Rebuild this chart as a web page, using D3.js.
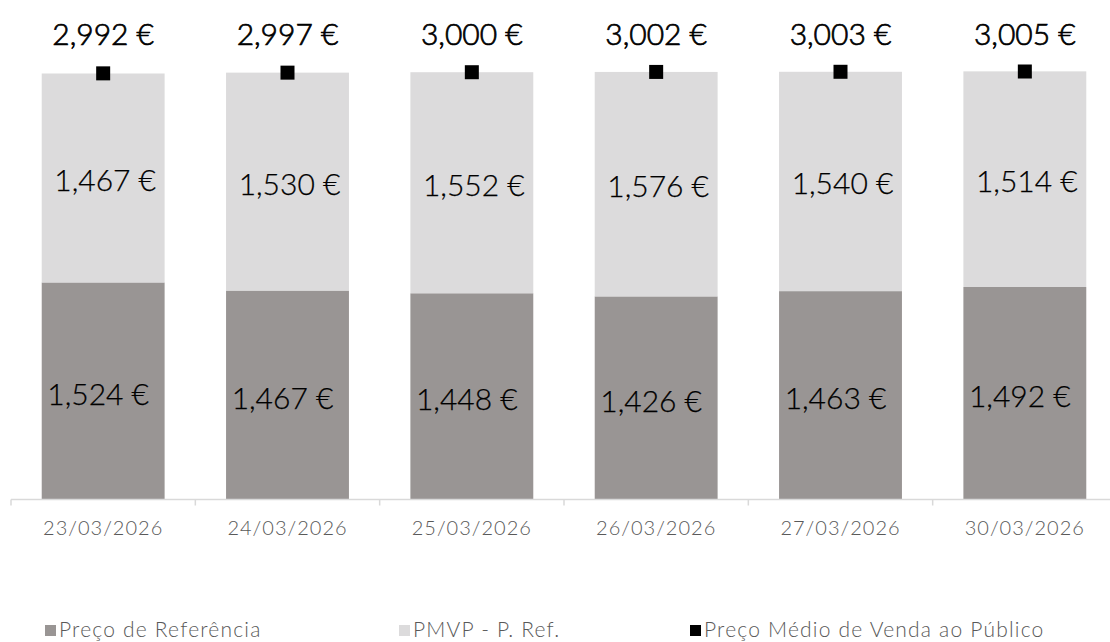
<!DOCTYPE html>
<html>
<head>
<meta charset="utf-8">
<script src="https://cdn.jsdelivr.net/npm/d3@7"></script>
<style>
  body { margin: 0; background: #fff; }
  svg { display: block; font-family: Lato, "Noto Sans", sans-serif; font-weight: 300; }
</style>
</head>
<body>
<div id="chart"></div>
<script>
// data
var dates = ["23/03/2026", "24/03/2026", "25/03/2026", "26/03/2026", "27/03/2026", "30/03/2026"];
var precoRef = [1.524, 1.467, 1.448, 1.426, 1.463, 1.492];
var pmvpDiff = [1.467, 1.530, 1.552, 1.576, 1.540, 1.514];
var pmvp = [2.992, 2.997, 3.000, 3.002, 3.003, 3.005];
var legendNames = ["Preço de Referência", "PMVP - P. Ref.", "Preço Médio de Venda ao Público"];

var width = 1110, height = 642;
var darkGrey = "#999594", lightGrey = "#dcdbdc";

var pt = d3.formatLocale({decimal: ",", thousands: ".", grouping: [3], currency: ["", " €"]});
var fmt = function (v) { return pt.format(".3f")(v) + " €"; };

var svg = d3.select("#chart").append("svg")
    .attr("width", width)
    .attr("height", height);

var x = d3.scaleBand()
    .domain(dates)
    .range([11, 1117])
    .paddingInner(1 / 3)
    .paddingOuter(1 / 6);

var y = d3.scaleLinear()
    .domain([0, 3.5])
    .range([499.5, 1]);

var rows = dates.map(function (d, i) {
    return {date: d, ref: precoRef[i], diff: pmvpDiff[i], total: pmvp[i]};
});

// bottom segment
svg.append("g").selectAll("rect")
    .data(rows)
    .join("rect")
    .attr("x", function (d) { return x(d.date); })
    .attr("width", x.bandwidth())
    .attr("y", function (d) { return y(d.ref); })
    .attr("height", function (d) { return y(0) - y(d.ref); })
    .attr("fill", darkGrey);

// top segment
svg.append("g").selectAll("rect")
    .data(rows)
    .join("rect")
    .attr("x", function (d) { return x(d.date); })
    .attr("width", x.bandwidth())
    .attr("y", function (d) { return y(d.ref + d.diff); })
    .attr("height", function (d) { return y(d.ref) - y(d.ref + d.diff); })
    .attr("fill", lightGrey);

// axis
var axis = svg.append("g")
    .attr("transform", "translate(0," + y(0) + ")");
axis.append("line")
    .attr("x1", 11).attr("x2", width)
    .attr("stroke", "#d9d9d9").attr("stroke-width", 1.5);
axis.selectAll(".tk")
    .data(dates)
    .join("line")
    .attr("class", "tk")
    .attr("x1", function (d) { return x(d) - x.step() * x.paddingOuter(); })
    .attr("x2", function (d) { return x(d) - x.step() * x.paddingOuter(); })
    .attr("y1", 0).attr("y2", 6)
    .attr("stroke", "#d9d9d9").attr("stroke-width", 1.5);
axis.selectAll("text")
    .data(dates)
    .join("text")
    .attr("x", function (d) { return x(d) + x.bandwidth() / 2; })
    .attr("y", 35)
    .attr("text-anchor", "middle")
    .attr("fill", "#595959")
    .style("font-size", "20px")
    .style("letter-spacing", "1px")
    .text(function (d) { return d; });

// marker for PMVP
svg.append("g").selectAll("rect")
    .data(rows)
    .join("rect")
    .attr("x", function (d) { return x(d.date) + x.bandwidth() / 2 - 7; })
    .attr("y", function (d) { return y(d.total) - 7; })
    .attr("width", 14).attr("height", 14)
    .attr("fill", "#000");

// labels
var labelSize = "30px";
svg.append("g").selectAll("text")
    .data(rows)
    .join("text")
    .attr("x", function (d) { return x(d.date) + x.bandwidth() / 2; })
    .attr("y", 45)
    .attr("text-anchor", "middle")
    .attr("stroke", "#000").attr("stroke-width", 0.7)
    .style("font-size", labelSize)
    .text(function (d) { return fmt(d.total); });

svg.append("g").selectAll("text")
    .data(rows)
    .join("text")
    .attr("x", function (d) { return x(d.date) + x.bandwidth() / 2 + 2; })
    .attr("y", function (d) { return (y(d.ref) + y(d.ref + d.diff)) / 2 + 13; })
    .attr("text-anchor", "middle")
    .attr("stroke", "#000").attr("stroke-width", 0.25)
    .style("font-size", labelSize)
    .text(function (d) { return fmt(d.diff); });

svg.append("g").selectAll("text")
    .data(rows)
    .join("text")
    .attr("x", function (d) { return x(d.date) + x.bandwidth() / 2 - 5; })
    .attr("y", function (d) { return (y(0) + y(d.ref)) / 2 + 14; })
    .attr("text-anchor", "middle")
    .attr("stroke", "#000").attr("stroke-width", 0.25)
    .style("font-size", labelSize)
    .text(function (d) { return fmt(d.ref); });

// legend
var legendColors = [darkGrey, lightGrey, "#000"];
var legendX = [45, 399, 690];
var lg = svg.append("g").selectAll("g")
    .data(legendNames)
    .join("g")
    .attr("transform", function (d, i) { return "translate(" + legendX[i] + ",625)"; });
lg.append("rect")
    .attr("width", 11).attr("height", 11)
    .attr("fill", function (d, i) { return legendColors[i]; });
lg.append("text")
    .attr("x", 14).attr("y", 12)
    .attr("fill", "#595959")
    .style("font-size", "21px")
    .style("letter-spacing", "1.2px")
    .text(function (d) { return d; });
</script>
</body>
</html>
